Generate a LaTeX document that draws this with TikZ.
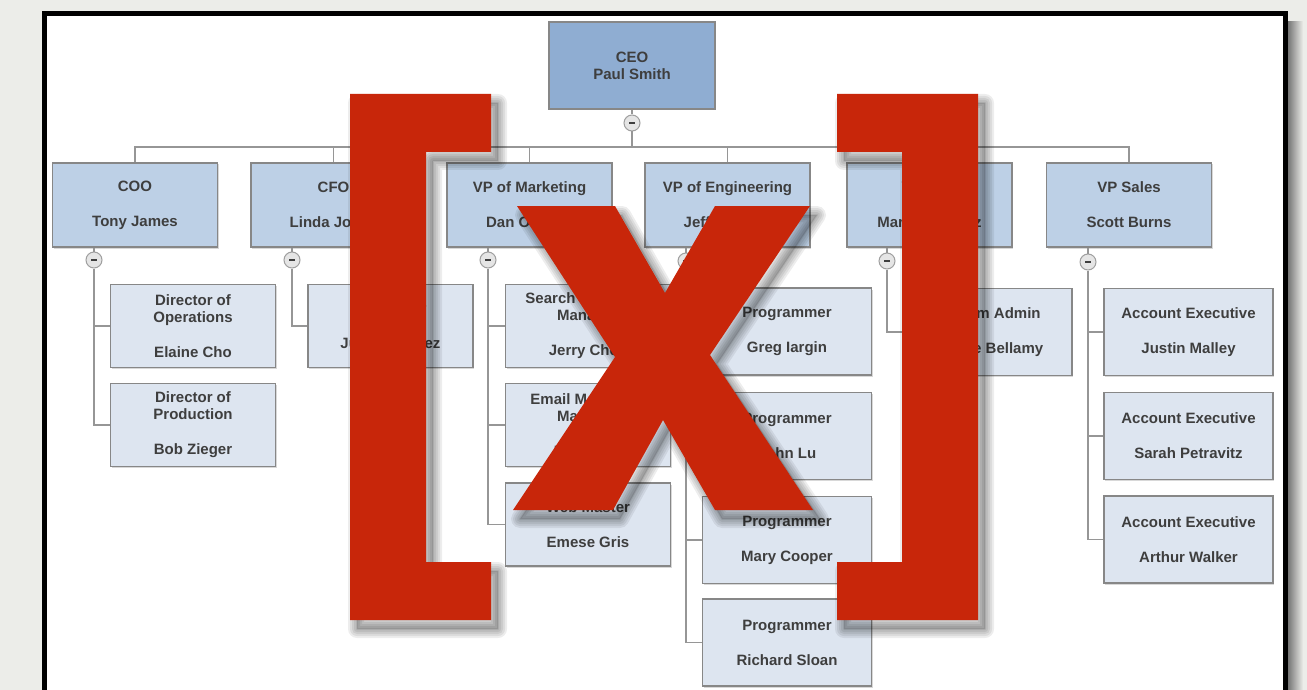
\documentclass[tikz,border=0pt]{standalone}
\usepackage{fontspec}
\setmainfont{Liberation Sans}
\usetikzlibrary{shadows}
\definecolor{pagegray}{RGB}{236,237,233}
\definecolor{xred}{RGB}{200,38,10}
\definecolor{ceoblue}{RGB}{143,173,210}
\definecolor{vpblue}{RGB}{189,208,230}
\definecolor{staffblue}{RGB}{221,229,240}
\definecolor{boxgray}{RGB}{135,135,135}
\definecolor{linegray}{RGB}{150,150,150}
\definecolor{textgray}{RGB}{62,62,62}

\def\lbrkpath{(350,94) -- (491,94) -- (491,152) -- (426,152) -- (426,562) -- (491,562) -- (491,620) -- (350,620) -- cycle}
\def\rbrkpath{(837,94) -- (978,94) -- (978,620) -- (837,620) -- (837,562) -- (902,562) -- (902,152) -- (837,152) -- cycle}
\def\xpath{(517,206) -- (615,206) -- (665,293) -- (715,206) -- (810,206) -- (710,355) -- (813,510) -- (715,510) -- (663,420) -- (613,510) -- (513,510) -- (615,357) -- cycle}

\begin{document}
\begin{tikzpicture}[x=1pt, y=-1pt, every node/.style={font=\fontsize{15}{17}\selectfont\bfseries, text=textgray, align=center}]
				\tikzstyle{ceonode}=[draw=boxgray, line width=1.2pt, fill=ceoblue, minimum width=166pt, minimum height=87pt, drop shadow={shadow xshift=1pt, shadow yshift=-1.5pt, opacity=.3}]
				\tikzstyle{vpnode}=[draw=boxgray, line width=1.2pt, fill=vpblue, minimum width=165pt, minimum height=84pt, drop shadow={shadow xshift=1pt, shadow yshift=-1.5pt, opacity=.3}]
				\tikzstyle{staffnode}=[draw=boxgray, line width=1.2pt, fill=staffblue, minimum width=165pt, minimum height=83pt, drop shadow={shadow xshift=1pt, shadow yshift=-1.5pt, opacity=.3}]
				\tikzstyle{widenode}=[staffnode, minimum width=169pt, minimum height=87pt]
				\tikzstyle{togglenode}=[circle, draw=gray!75, line width=1pt, fill=black!10, minimum size=16pt, inner sep=0pt]
				\tikzstyle{link}=[draw=linegray, line width=1.3pt]
				\tikzstyle{xshadow}=[black, line join=round, shift={(7,9)}]
				
				\clip (0,0) rectangle (1307,690);
				\fill[pagegray] (0,0) rectangle (1307,690);
				\shade[left color=black!60, right color=pagegray] (1286,22) rectangle (1303,690);
				\filldraw[fill=white, draw=black, line width=5pt] (44.5,13.5) rectangle (1285,760);
				
				\node (ceo) at (632,65.5) [ceonode] {CEO\\Paul Smith};
				\node (m0) at (632,123) [togglenode] {\rule{6pt}{2.6pt}};
				\coordinate (bus) at (632,147);
				
				\node (v1) at (135,205) [vpnode] {COO\\[18pt]Tony James};
				\node (v2) at (333.5,205) [vpnode] {CFO\\[18pt]Linda Jones};
				\node (v3) at (529.5,205) [vpnode] {VP of Marketing\\[18pt]Dan O'Brien};
				\node (v4) at (727.5,205) [vpnode] {VP of Engineering\\[18pt]Jeff Roberts};
				\node (v5) at (929.5,205) [vpnode] {VP of IT\\[18pt]Maria Sanchez};
				\node (v6) at (1129,205) [vpnode] {VP Sales\\[18pt]Scott Burns};
				
				\node (m1) at (94,260) [togglenode] {\rule{6pt}{2.6pt}};
				\node (m2) at (292,260) [togglenode] {\rule{6pt}{2.6pt}};
				\node (m3) at (488,260) [togglenode] {\rule{6pt}{2.6pt}};
				\node (m4) at (686,261) [togglenode] {\rule{6pt}{2.6pt}};
				\node (m5) at (887,261) [togglenode] {\rule{6pt}{2.6pt}};
				\node (m6) at (1088,262) [togglenode] {\rule{6pt}{2.6pt}};
				
				\node (d11) at (193,326) [staffnode] {Director of\\Operations\\[18pt]Elaine Cho};
				\node (d12) at (193,425) [staffnode] {Director of\\Production\\[18pt]Bob Zieger};
				
				\node (d21) at (390.5,326) [staffnode] {Controller\\[18pt]Juan Martinez};
				
				\node (d31) at (588,326) [staffnode] {Search Marketing\\Manager\\[18pt]Jerry Chen};
				\node (d32) at (588,425) [staffnode] {Email Marketing\\Manager\\[18pt]Frank Hill};
				\node (d33) at (588,524.5) [staffnode] {Web Master\\[18pt]Emese Gris};
				
				\node (d41) at (787,331.5) [widenode] {Programmer\\[18pt]Greg Iargin};
				\node (d42) at (787,436) [widenode] {Programmer\\[18pt]John Lu};
				\node (d43) at (787,540) [widenode] {Programmer\\[18pt]Mary Cooper};
				\node (d44) at (787,642.5) [widenode] {Programmer\\[18pt]Richard Sloan};
				
				\node (d51) at (988.5,332) [widenode, minimum width=167pt] {System Admin\\[18pt]Wayne Bellamy};
				
				\node (d61) at (1188.5,332) [widenode] {Account Executive\\[18pt]Justin Malley};
				\node (d62) at (1188.5,436) [widenode] {Account Executive\\[18pt]Sarah Petravitz};
				\node (d63) at (1188.5,539.5) [widenode] {Account Executive\\[18pt]Arthur Walker};
				
				\draw[link] (ceo.south) -- (m0);
				\draw[link] (m0) -- (bus);
				\draw[link] (v1.north) |- (bus) -| (v6.north);
				\foreach \v in {v2,v3,v4,v5}
					\draw[link] (\v.north) -- (\v.north |- bus);
				
				\foreach \m/\v in {m1/v1,m2/v2,m3/v3,m4/v4,m5/v5,m6/v6}
					\draw[link] (\m) -- (\m |- \v.south);
				
				\draw[link] (m1) -- (m1 |- d12.west) -- (d12.west);
				\draw[link] (m1 |- d11.west) -- (d11.west);
				\draw[link] (m2) -- (m2 |- d21.west) -- (d21.west);
				\draw[link] (m3) -- (m3 |- d33.west) -- (d33.west);
				\foreach \d in {d31,d32}
					\draw[link] (m3 |- \d.west) -- (\d.west);
				\draw[link] (m4) -- (m4 |- d44.west) -- (d44.west);
				\foreach \d in {d41,d42,d43}
					\draw[link] (m4 |- \d.west) -- (\d.west);
				\draw[link] (m5) -- (m5 |- d51.west) -- (d51.west);
				\draw[link] (m6) -- (m6 |- d63.west) -- (d63.west);
				\foreach \d in {d61,d62}
					\draw[link] (m6 |- \d.west) -- (\d.west);
				
				% soft shadow under the red mark
				\fill[xshadow, opacity=.14] \lbrkpath \rbrkpath \xpath;
				\foreach \w in {18,14,10,6,2}
					\draw[xshadow, opacity=.07, line width=\w pt] \lbrkpath \rbrkpath \xpath;
				
				\fill[xred] \lbrkpath;
				\fill[xred] \rbrkpath;
				\fill[xred] \xpath;
\end{tikzpicture}
\end{document}
